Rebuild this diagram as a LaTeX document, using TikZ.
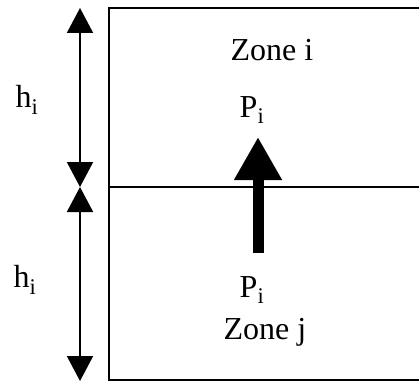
\documentclass[tikz,border=0pt]{standalone}
\usepackage{fontspec}
\setmainfont{Liberation Serif}
\usetikzlibrary{arrows.meta}
\begin{document}
\begin{tikzpicture}[x=1pt,y=-1pt,
  lbl/.style={font=\fontsize{32}{36}\selectfont, inner sep=0pt},
  wall/.style={line width=2pt},
  dim/.style={line width=2pt, -{Triangle[width=26pt,length=25pt]}},
  flow/.style={line width=11pt, -{Triangle[width=45pt,length=43pt]}}]
\useasboundingbox (0,0) rectangle (419,385);
% box
\coordinate (tl) at (109,8);
\coordinate (tr) at (421,8);
\coordinate (bl) at (109,380);
\coordinate (br) at (421,380);
\coordinate (ml) at (109,187);
\coordinate (mr) at (421,187);
\draw[wall] (tr) -- (tl) -- (bl) -- (br);
\draw[wall] (ml) -- (mr);
% dimension arrows
\coordinate (d0) at (80,8);
\coordinate (d1) at (80,187);
\coordinate (d2) at (80,381);
\coordinate (dm1) at (80,98);
\coordinate (dm2) at (80,284);
\draw[dim] (dm1) -- (d0);
\draw[dim] (dm1) -- (d1);
\draw[dim] (dm2) -- (d1);
\draw[dim] (dm2) -- (d2);
\node[lbl] (h1) at (27,100) {h\textsubscript{i}};
\node[lbl] (h2) at (25,280) {h\textsubscript{i}};
% zone labels
\node[lbl] (zi) at (272,50) {Zone i};
\node[lbl] (pi) at (252,110) {P\textsubscript{i}};
\node[lbl] (pj) at (252,290) {P\textsubscript{i}};
\node[lbl] (zj) at (265,332) {Zone j};
% flow arrow
\coordinate (fa) at (258,253);
\coordinate (fb) at (258,137);
\draw[flow] (fa) -- (fb);
\end{tikzpicture}
\end{document}
